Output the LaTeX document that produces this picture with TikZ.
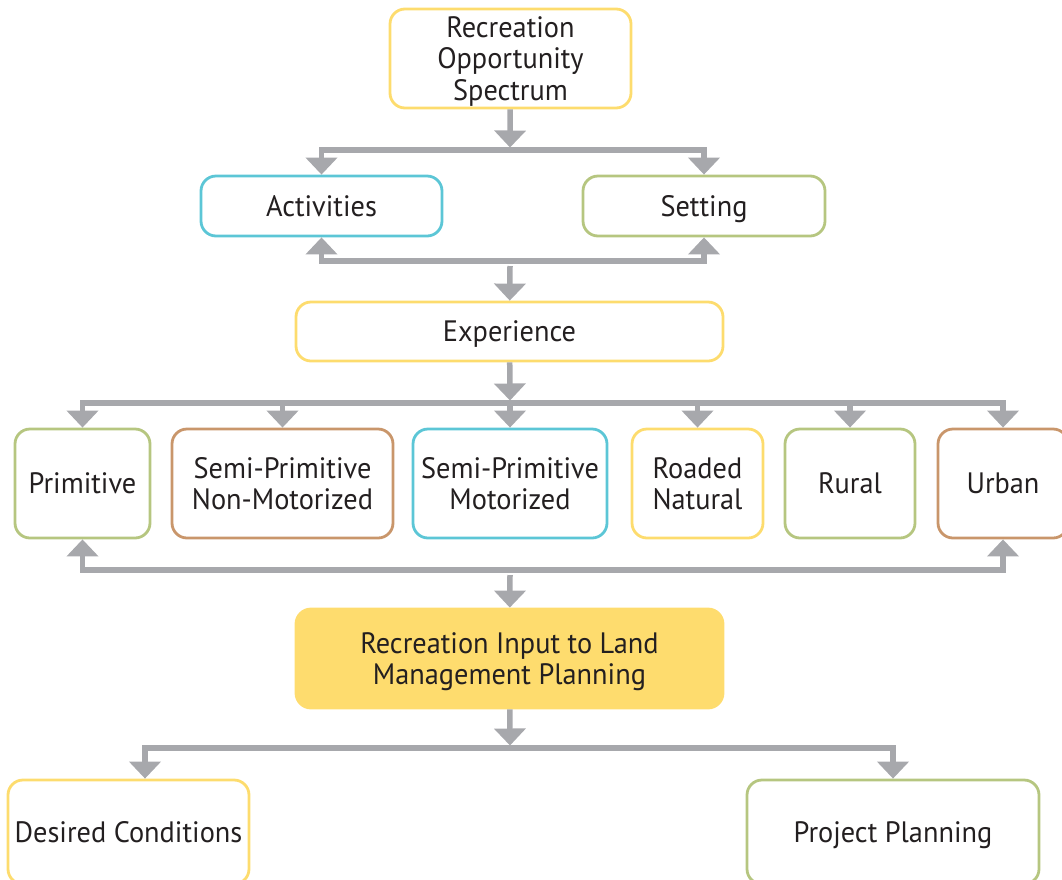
\documentclass[tikz,border=0pt]{standalone}
\usepackage{fontspec}
\setmainfont{PT Sans}[FakeStretch=0.96]
\usetikzlibrary{arrows.meta,calc}
\definecolor{cyel}{HTML}{FDDC6E}
\definecolor{ccya}{HTML}{5CC6D6}
\definecolor{cgrn}{HTML}{B6C680}
\definecolor{cbrn}{HTML}{C9966B}
\definecolor{cfill}{HTML}{FEDC6E}
\definecolor{cgray}{HTML}{A7A8AC}
\definecolor{ctext}{HTML}{231F20}
\newcommand\ct{\rule{0pt}{27pt}}
\newcommand\cb{\rule[-6.4pt]{0pt}{6.4pt}}
\tikzset{
  box/.style={draw, line width=2.8pt, rounded corners=15pt, align=center, text=ctext,
    inner sep=0pt, font=\fontsize{29.5}{31.5}\selectfont},
  conn/.style={draw=cgray, line width=5.5pt},
  tip/.style={-{Triangle[width=31pt,length=17pt]}},
  tips/.style={{Triangle[width=31pt,length=17pt]}-{Triangle[width=31pt,length=17pt]}},
}
\begin{document}
\begin{tikzpicture}[x=1pt,y=-1pt]
\useasboundingbox (0,0) rectangle (1062,879);
\clip (0,0) rectangle (1062,879);
% nodes
\node[box, draw=cyel, minimum width=241, minimum height=99] (ros) at (510.5,58.5) {\ct Recreation\\Opportunity\\Spectrum\cb};
\node[box, draw=ccya, minimum width=241, minimum height=60] (ac) at (321.5,206) {\ct Activities\cb};
\node[box, draw=cgrn, minimum width=242, minimum height=60] (se) at (704,206) {\ct Setting\cb};
\node[box, draw=cyel, minimum width=427, minimum height=59] (ex) at (509.5,331.5) {\ct Experience\cb};
\node[box, draw=cgrn, minimum width=135, minimum height=109] (pr) at (82.5,483.5) {\ct Primitive\cb};
\node[box, draw=cbrn, minimum width=221, minimum height=109] (snm) at (282.5,483.5) {\ct Semi-Primitive\\Non-Motorized\cb};
\node[box, draw=ccya, minimum width=194, minimum height=109] (spm) at (510,483.5) {\ct Semi-Primitive\\Motorized\cb};
\node[box, draw=cyel, minimum width=131, minimum height=109] (rn) at (697.5,483.5) {\ct Roaded\\Natural\cb};
\node[box, draw=cgrn, minimum width=130, minimum height=109] (ru) at (850,483.5) {\ct Rural\cb};
\node[box, draw=cbrn, minimum width=130, minimum height=109] (ur) at (1003,483.5) {\ct Urban\cb};
\node[box, draw=cfill, fill=cfill, minimum width=427, minimum height=99] (ri) at (509.5,658.5) {\ct Recreation Input to Land\\Management Planning\cb};
\node[box, draw=cyel, minimum width=241, minimum height=104] (dc) at (128.5,832) {\ct Desired Conditions\cb};
\node[box, draw=cgrn, minimum width=292, minimum height=104] (pp) at (893,832) {\ct Project Planning\cb};
% junction coordinates
\coordinate (b1) at (510,150);
\coordinate (b1t) at (510,147.5);
\coordinate (b2) at (510,261);
\coordinate (b2s) at (510,266);
\coordinate (b3) at (510,403);
\coordinate (b3t) at (510,400.5);
\coordinate (b4) at (510,570);
\coordinate (b4s) at (510,575);
\coordinate (b5) at (510,748);
\coordinate (b5t) at (510,745.5);
\coordinate (dcx) at (145,0);
% connectors
\draw[conn,tip] (ros) -- (b1t);
\draw[conn,tips,line join=miter] (ac.north) |- (b1) -| (se.north);
\draw[conn,tips,line join=miter] (ac.south) |- (b2) -| (se.south);
\draw[conn,tip] (b2s) -- (ex);
\draw[conn,tip] (ex) -- (b3t);
\draw[conn,tips,line join=miter] (pr.north) |- (b3) -| (ur.north);
\draw[conn,tip] (snm.north |- b3) -- (snm.north);
\draw[conn,tip] (b3) -- (spm.north);
\draw[conn,tip] (rn.north |- b3) -- (rn.north);
\draw[conn,tip] (ru.north |- b3) -- (ru.north);
\draw[conn,tips,line join=miter] (pr.south) |- (b4) -| (ur.south);
\draw[conn,tip] (b4s) -- (ri);
\draw[conn,tip] (ri) -- (b5t);
\draw[conn,tips,line join=miter] (dc.north -| dcx) |- (b5) -| (pp.north);
\end{tikzpicture}
\end{document}
